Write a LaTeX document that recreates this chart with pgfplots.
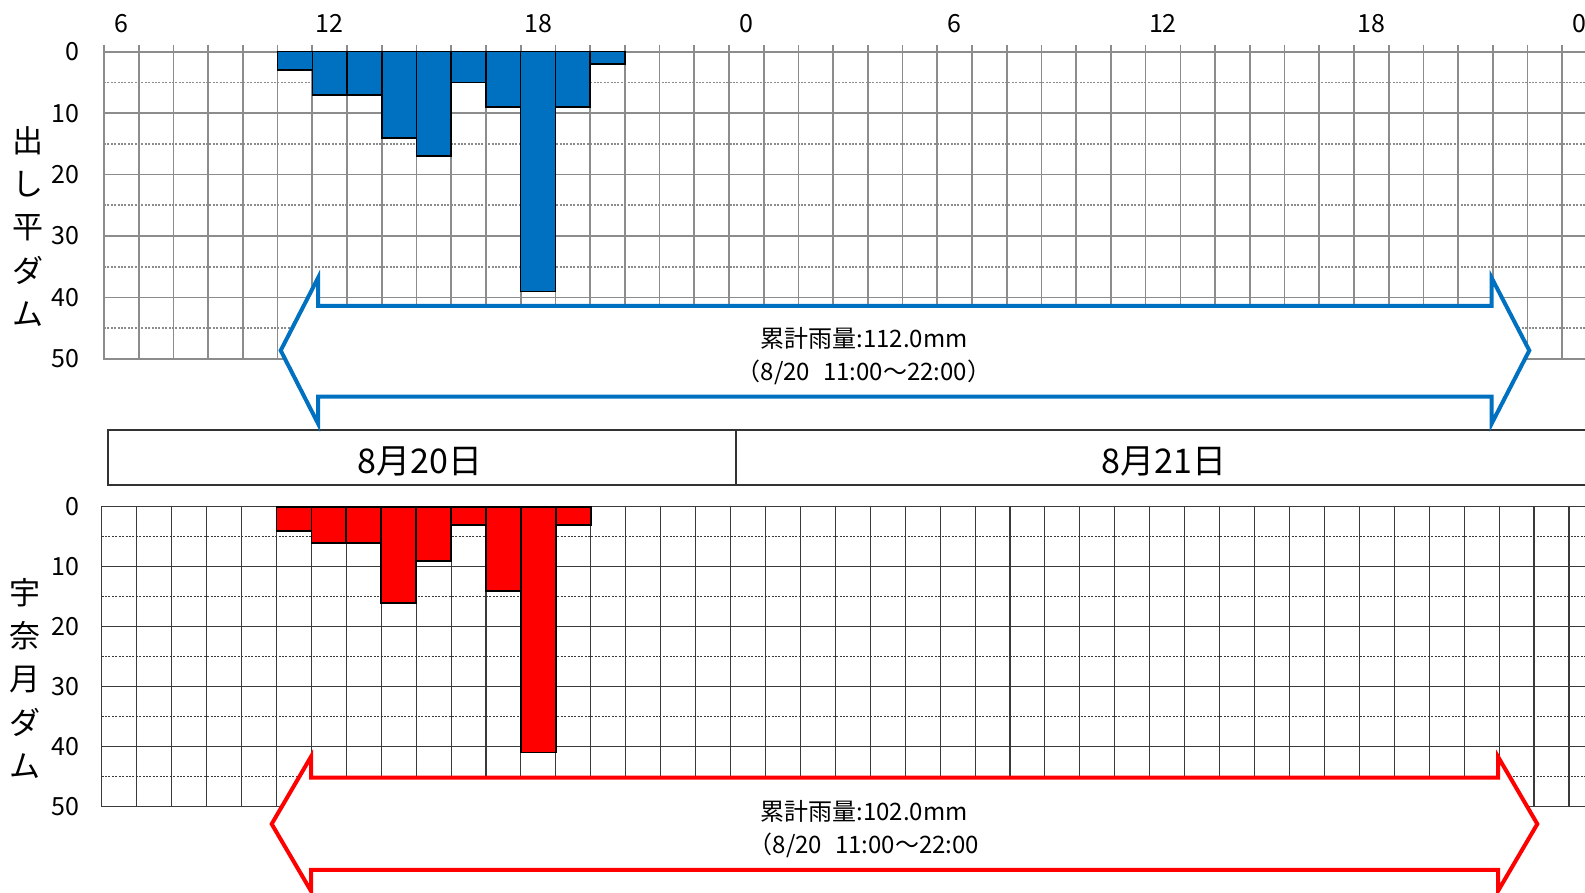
\documentclass[border=0pt]{standalone}
\usepackage{fontspec}
\setmainfont{Noto Sans CJK JP}
\usepackage{pgfplots}
\pgfplotsset{compat=1.18}
\definecolor{barblue}{HTML}{0070C0}
\definecolor{barred}{HTML}{FF0000}
\definecolor{gridtop}{HTML}{8C8C8C}
\definecolor{gridbot}{HTML}{3A3A3A}
\definecolor{dashc}{HTML}{404040}
\begin{document}
\begin{tikzpicture}
% ---------------- top: 出し平ダム ----------------
\begin{axis}[
  at={(52pt,267pt)}, anchor=south west,
  scale only axis, width=746.5pt, height=153.65pt,
  xmin=5.5, xmax=48.5, ymin=0, ymax=50, y dir=reverse,
  xtick={6,12,18,24,30,36,42,48},
  xticklabels={6,12,18,0,6,12,18,0},
  minor xtick={5.5,6.5,...,48.5},
  xminorgrids,
  ytick={0,10,...,50}, ymajorgrids,
  extra y ticks={5,15,25,35,45}, extra y tick labels={},
  extra y tick style={grid=major, major grid style={dashc, line width=0.5pt, dash pattern=on 1pt off 0.7pt}},
  tick align=outside, major tick length=0pt, minor tick length=3.35pt,
  xtick pos=right, xticklabel pos=right, ytick pos=left,
  minor x grid style={gridtop, line width=0.85pt},
  major y grid style={gridtop, line width=0.85pt},
  minor tick style={gridtop, line width=0.85pt},
  axis line style={gridtop, line width=0.85pt},
  /pgf/number format/assume math mode=true,
  xticklabel style={anchor=south, inner sep=0pt, yshift=9.3pt, font=\fontsize{12.5}{14}\selectfont},
  yticklabel style={anchor=east, inner sep=0pt, xshift=-12pt, font=\fontsize{12.5}{14}\selectfont},
]
\addplot[ybar, bar width=1, bar shift=0pt, fill=barblue, draw=black, line width=0.8pt]
  coordinates {(11,3) (12,7) (13,7) (14,14) (15,17) (16,5) (17,9) (18,39) (19,9) (20,2)};
\end{axis}
% ---------------- bottom: 宇奈月ダム ----------------
\begin{axis}[
  at={(50.85pt,43.15pt)}, anchor=south west,
  scale only axis, width=751.1pt, height=150pt,
  xmin=5.5, xmax=48.5, ymin=0, ymax=50, y dir=reverse,
  xtick={6,12,18,24,30,36,42,48},
  xticklabels={},
  minor xtick={5.5,6.5,...,48.5},
  xminorgrids,
  ytick={0,10,...,50}, ymajorgrids,
  extra y ticks={5,15,25,35,45}, extra y tick labels={},
  extra y tick style={grid=major, major grid style={dashc, line width=0.5pt, dash pattern=on 1pt off 0.7pt}},
  tick align=outside, major tick length=0pt, minor tick length=0pt,
  ytick pos=left,
  minor x grid style={gridbot, line width=0.55pt},
  major y grid style={gridbot, line width=0.55pt},
  axis line style={gridbot, line width=0.55pt},
  /pgf/number format/assume math mode=true,
  yticklabel style={anchor=east, inner sep=0pt, xshift=-10.8pt, font=\fontsize{12.5}{14}\selectfont},
]
\addplot[ybar, bar width=1, bar shift=0pt, fill=barred, draw=black, line width=0.8pt]
  coordinates {(11,4) (12,6) (13,6) (14,16) (15,9) (16,3) (17,14) (18,41) (19,3)};
\end{axis}
% ---------------- axis titles ----------------
\node[align=center, font=\fontsize{15.5}{21.65}\selectfont] at (14pt,333.25pt) {出\\し\\平\\ダ\\ム};
\node[align=center, font=\fontsize{15.5}{21.65}\selectfont] at (12.5pt,107.25pt) {宇\\奈\\月\\ダ\\ム};
% ---------------- date box ----------------
\draw[black!80, line width=1pt] (54.15pt,204pt) rectangle (810pt,231.5pt);
\draw[black!80, line width=1pt] (367.85pt,204pt) -- (367.85pt,231.5pt);
\node[font=\fontsize{17}{19}\selectfont] at (210pt,215.75pt) {8月20日};
\node[font=\fontsize{17}{19}\selectfont] at (582pt,215.75pt) {8月21日};
% ---------------- arrows ----------------
\draw[barblue, line width=2pt, fill=white, line join=miter]
  (140.35pt,271.25pt) -- (159pt,307.5pt) -- (159pt,293.5pt) -- (745.85pt,293.5pt)
  -- (745.85pt,307.5pt) -- (764.65pt,271.25pt) -- (745.85pt,234.75pt) -- (745.85pt,248.15pt)
  -- (159pt,248.15pt) -- (159pt,234.75pt) -- cycle;
\node[font=\fontsize{12}{14}\selectfont] at (432pt,277.5pt) {累計雨量:112.0mm};
\node[font=\fontsize{12}{14}\selectfont] at (432pt,260.4pt) {（8/20\hspace{0.55em}11:00〜22:00）};
\draw[barred, line width=2pt, fill=white, line join=miter]
  (135.85pt,34.5pt) -- (155.5pt,68.15pt) -- (155.5pt,57.65pt) -- (749pt,57.65pt)
  -- (749pt,68.15pt) -- (768.65pt,34.5pt) -- (749pt,1pt) -- (749pt,11.5pt)
  -- (155.5pt,11.5pt) -- (155.5pt,1pt) -- cycle;
\node[font=\fontsize{12}{14}\selectfont] at (432pt,41pt) {累計雨量:102.0mm};
\node[font=\fontsize{12}{14}\selectfont] at (432pt,23.7pt) {（8/20\hspace{0.55em}11:00〜22:00};
\pgfresetboundingbox
\path[use as bounding box] (0,0) rectangle (792.5pt,446.5pt);
\end{tikzpicture}
\end{document}
